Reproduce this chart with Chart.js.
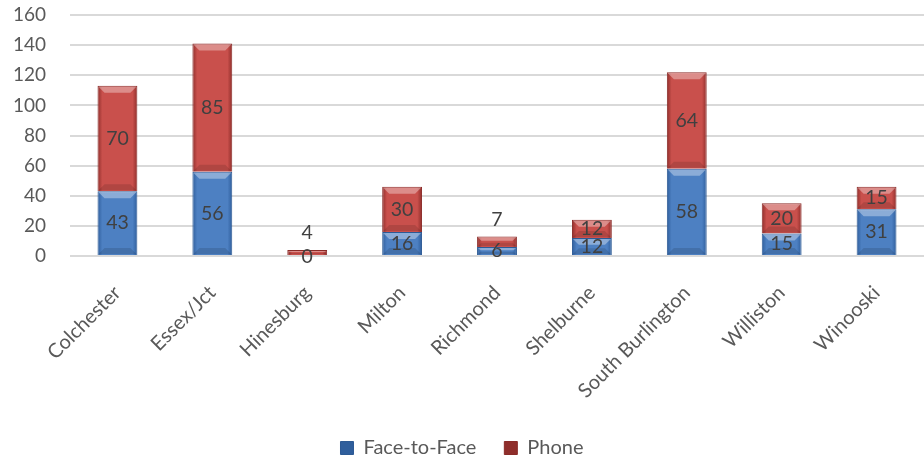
<!DOCTYPE html>
<html>
<head>
<meta charset="utf-8">
<script src="https://cdn.jsdelivr.net/npm/chart.js@4"></script>
<style>
  html, body { margin: 0; padding: 0; background: #fff; }
  #wrap { width: 924px; height: 460px; }
</style>
</head>
<body>
<div id="wrap"><canvas id="chartTowns"></canvas></div>
<script>
var towns = ["Colchester", "Essex/Jct", "Hinesburg", "Milton", "Richmond", "Shelburne", "South Burlington", "Williston", "Winooski"];
var faceToFace = [43, 56, 0, 16, 6, 12, 58, 15, 31];
var phone = [70, 85, 4, 30, 7, 12, 64, 20, 15];
var yTicks = [0, 20, 40, 60, 80, 100, 120, 140, 160];

// fake Excel bevel: darker edges left and right
function bevel(ctx, base, dark) {
    var c = ctx.chart;
    if (!c.chartArea || !c.scales.x) return base;
    var x = c.scales.x.getPixelForValue(ctx.dataIndex);
    var w = c.scales.x.width / towns.length * 0.42;
    if (!isFinite(x) || !isFinite(w) || w <= 0) return base;
    var g = c.ctx.createLinearGradient(x - w / 2, 0, x + w / 2, 0);
    g.addColorStop(0, dark);
    g.addColorStop(0.12, base);
    g.addColorStop(0.88, base);
    g.addColorStop(1, dark);
    return g;
}

var labelPlugin = {
    id: "segLabels",
    afterDatasetsDraw: function (chart) {
        var ctx = chart.ctx;
        ctx.save();
        // top highlight + bottom shade on each segment
        chart.data.datasets.forEach(function (ds, i) {
            chart.getDatasetMeta(i).data.forEach(function (bar) {
                var h = bar.base - bar.y;
                if (h < 2) return;
                var l = bar.x - bar.width / 2, r = bar.x + bar.width / 2;
                var s = Math.min(7, h / 2.5);
                ctx.fillStyle = "rgba(255,255,255,0.35)";
                ctx.beginPath();
                ctx.moveTo(l + 1, bar.y + 1); ctx.lineTo(r - 1, bar.y + 1);
                ctx.lineTo(r - s, bar.y + s); ctx.lineTo(l + s, bar.y + s);
                ctx.closePath(); ctx.fill();
                ctx.fillStyle = "rgba(0,0,0,0.12)";
                ctx.beginPath();
                ctx.moveTo(l + 1, bar.base - 1); ctx.lineTo(r - 1, bar.base - 1);
                ctx.lineTo(r - s, bar.base - s); ctx.lineTo(l + s, bar.base - s);
                ctx.closePath(); ctx.fill();
            });
        });
        ctx.font = "19.5px Lato";
        ctx.fillStyle = "#404040";
        ctx.textAlign = "center";
        ctx.textBaseline = "middle";
        chart.data.datasets.forEach(function (ds, i) {
            var meta = chart.getDatasetMeta(i);
            meta.data.forEach(function (bar, j) {
                var v = ds.data[j];
                var top = bar.y, bottom = bar.base;
                var y = (top + bottom) / 2;
                if (i === 1 && bottom - top < 16) y = top - 17;
                if (v === 0) y = bottom + 1;
                ctx.fillText(String(v), bar.x, y);
            });
        });
        ctx.restore();
    }
};

var chart = new Chart(document.getElementById("chartTowns").getContext("2d"), {
    type: "bar",
    data: {
        labels: towns,
        datasets: [
            {
                label: "Face-to-Face",
                data: faceToFace,
                backgroundColor: function (ctx) { return bevel(ctx, "#4d80c2", "#2f5e9c"); },
                borderColor: "#2d5a94",
                borderWidth: 1
            },
            {
                label: "Phone",
                data: phone,
                backgroundColor: function (ctx) { return bevel(ctx, "#c9504c", "#8f2e2b"); },
                borderColor: "#8a2b28",
                borderWidth: 1
            }
        ]
    },
    options: {
        responsive: true,
        maintainAspectRatio: false,
        animation: false,
        layout: { padding: { left: 0, right: 0, top: 0, bottom: -8 } },
        datasets: { bar: { categoryPercentage: 0.84, barPercentage: 0.5 } },
        scales: {
            x: {
                stacked: true,
                grid: { display: false },
                border: { display: false },
                afterFit: function (scale) { scale.height = 154; },
                ticks: {
                    color: "#595959",
                    font: { family: "Lato", size: 20 },
                    maxRotation: 45,
                    minRotation: 45,
                    padding: 17
                }
            },
            y: {
                stacked: true,
                min: 0,
                max: 160,
                afterBuildTicks: function (axis) {
                    axis.ticks = yTicks.map(function (v) { return { value: v }; });
                },
                afterFit: function (scale) {
                    scale.width = 70;
                    scale.paddingTop = 15;
                    scale.paddingBottom = 0;
                },
                grid: { color: "#d9d9d9", lineWidth: 2, drawTicks: false },
                border: { display: false },
                ticks: {
                    color: "#595959",
                    font: { family: "Lato", size: 19 },
                    padding: 24
                }
            }
        },
        plugins: {
            legend: {
                position: "bottom",
                labels: {
                    color: "#595959",
                    font: { family: "Lato", size: 20 },
                    boxWidth: 13,
                    boxHeight: 13,
                    padding: 28
                }
            },
            tooltip: { enabled: false }
        }
    },
    plugins: [labelPlugin]
});
</script>
</body>
</html>
